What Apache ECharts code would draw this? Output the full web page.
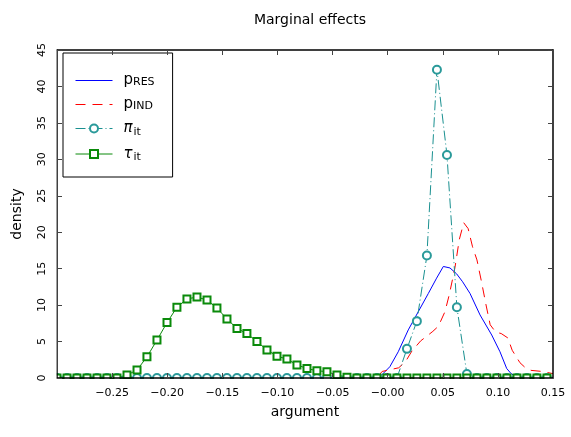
<!DOCTYPE html>
<html><head><meta charset="utf-8">
<script src="https://cdn.jsdelivr.net/npm/echarts@6/dist/echarts.min.js"></script>
<style>html,body{margin:0;padding:0;background:#fff}#c{width:571px;height:437px}</style>
</head><body><div id="c"></div>
<script>
// shared evaluation grid for pi_it and tau_it
const gridX = [-0.3000,-0.2909,-0.2819,-0.2728,-0.2637,-0.2547,-0.2456,-0.2365,-0.2274,-0.2184,
  -0.2093,-0.2002,-0.1912,-0.1821,-0.1730,-0.1639,-0.1549,-0.1458,-0.1367,-0.1277,
  -0.1186,-0.1095,-0.1004,-0.0914,-0.0823,-0.0732,-0.0642,-0.0551,-0.0460,-0.0369,
  -0.0279,-0.0188,-0.0097,-0.0007,0.0084,0.0175,0.0265,0.0356,0.0447,0.0538,
  0.0628,0.0719,0.0810,0.0900,0.0991,0.1082,0.1173,0.1263,0.1354,0.1445];
const piY = [0,0,0,0,0,0,0,0,0,0, 0,0,0,0,0,0,0,0,0,0, 0,0,0,0,0,0,0,0,0,0,
  0,0,0,0,0,4.0,7.8,16.8,42.3,30.6, 9.7,0.55,0,0,0,0,0,0,0,0];
const tauY = [0,0,0,0,0,0,0,0.4,1.1,2.9, 5.2,7.6,9.7,10.85,11.1,10.7,9.6,8.1,6.8,6.1,
  5.0,3.85,3.0,2.6,1.8,1.3,1.0,0.87,0.4,0.1, 0,0,0,0,0,0,0,0,0,0, 0,0,0,0,0,0,0,0,0,0];
// p_RES
const resX = [-0.30,-0.012,-0.0055,0.002,0.0096,0.0187,0.0278,0.0369,0.0444,0.0505,0.0565,0.0625,0.068,0.0747,0.0838,0.0944,0.1019,0.108,0.112,0.117,0.150];
const resY = [0,0,0.4,1.55,3.6,6.6,9.1,11.6,13.7,15.3,15.1,14.3,13.2,11.6,8.65,5.9,3.6,1.3,0.6,0.1,0];
// p_IND
const indX = [-0.30,-0.010,-0.005,0.004,0.010,0.016,0.022,0.030,0.036,0.041,0.046,0.052,0.056,0.061,0.065,0.069,0.073,0.077,0.081,0.085,0.089,0.093,0.098,0.103,0.109,0.113,0.120,0.125,0.130,0.140,0.150];
const indY = [0,0,0.9,1.2,1.4,2.2,3.7,5.1,5.8,6.4,7.1,9.1,11.5,15.1,19.0,21.3,20.5,18.0,16.2,13.3,10.2,7.3,6.3,6.1,5.5,3.8,2.1,1.4,1.05,0.9,0.6];

const xMin = -0.30, xMax = 0.15, xStep = 0.05;
const yMin = 0, yMax = 45, yStep = 5;

const font = 'DejaVu Sans';
const pairs = (xs, ys) => xs.map((x, i) => [x, ys[i]]);
const fmtX = v => {
  if (Math.abs(v) < 1e-9) return '\u22120.00';
  const s = Math.abs(v).toFixed(2);
  return v < 0 ? '\u2212' + s : s;
};

const chart = echarts.init(document.getElementById('c'), null, {renderer: 'canvas'});
const axisLine = {show: true, onZero: false, lineStyle: {color: '#000', width: 1.5}};
const tick = {show: true, inside: true, length: 5, lineStyle: {color: '#444', width: 1}};

chart.setOption({
  animation: false,
  backgroundColor: '#fff',
  title: {text: 'Marginal effects', left: 305, textAlign: 'center', top: 8,
    textStyle: {fontFamily: font, fontSize: 14, fontWeight: 'normal', color: '#000'}},
  grid: {left: 57, right: 18, top: 50, bottom: 59},
  legend: {
    orient: 'vertical', left: 63, top: 53,
    padding: [20, 18, 14, 12], itemGap: 9, itemWidth: 37, itemHeight: 10,
    backgroundColor: '#fff', borderColor: '#000', borderWidth: 1,
    lineStyle: {width: 1},
    data: [
      {name: 'pRES', itemStyle: {opacity: 0}},
      {name: 'pIND', itemStyle: {opacity: 0}},
      {name: 'pi'},
      {name: 'tau'}
    ],
    formatter: n => ({pRES: '{m|p}{s|RES}', pIND: '{m|p}{s|IND}', pi: '{g|\u03c0}{t|it}', tau: '{g|\u03c4}{t|it}'})[n],
    textStyle: {fontFamily: font, color: '#000', padding: [0, 0, 0, 6],
      rich: {
        m: {fontSize: 15, fontFamily: font, color: '#000'},
        s: {fontSize: 11, fontFamily: font, color: '#000', padding: [3, 0, 0, 0]},
        g: {fontSize: 15, fontFamily: font, fontStyle: 'italic', color: '#000'},
        t: {fontSize: 11, fontFamily: font, color: '#000', padding: [7, 0, 0, 1]}
      }}
  },
  xAxis: [{
    type: 'value', min: xMin, max: xMax, interval: xStep, position: 'bottom', z: 5,
    name: 'argument', nameLocation: 'middle', nameGap: 27,
    nameTextStyle: {fontFamily: font, fontSize: 14, color: '#000'},
    axisLine, axisTick: tick, splitLine: {show: false},
    axisLabel: {formatter: fmtX, showMinLabel: false, margin: 10, fontFamily: font, fontSize: 11, color: '#000'}
  }, {
    type: 'value', min: xMin, max: xMax, interval: xStep, position: 'top', z: 5,
    axisLine, axisTick: tick, splitLine: {show: false}, axisLabel: {show: false}
  }],
  yAxis: [{
    type: 'value', min: yMin, max: yMax, interval: yStep, position: 'left', z: 5,
    name: 'density', nameLocation: 'middle', nameGap: 33,
    nameTextStyle: {fontFamily: font, fontSize: 14, color: '#000'},
    axisLine, axisTick: tick, splitLine: {show: false},
    axisLabel: {rotate: 90, margin: 9, fontFamily: font, fontSize: 11, color: '#000'}
  }, {
    type: 'value', min: yMin, max: yMax, interval: yStep, position: 'right', z: 5,
    axisLine, axisTick: tick, splitLine: {show: false}, axisLabel: {show: false}
  }],
  graphic: [
    {type: 'rect', z: 100, silent: true, shape: {x: 45, y: 379, width: 520, height: 7}, style: {fill: '#fff'}},
    {type: 'rect', z: 100, silent: true, shape: {x: 48, y: 40, width: 8.5, height: 346}, style: {fill: '#fff'}}
  ],
  series: [
    {name: 'pRES', type: 'line', data: pairs(resX, resY), showSymbol: false, symbol: 'none',
      lineStyle: {color: '#0000ff', width: 1}, itemStyle: {color: '#0000ff'}},
    {name: 'pIND', type: 'line', data: pairs(indX, indY), showSymbol: false, symbol: 'none',
      lineStyle: {color: '#ff0000', width: 1, type: [10, 7]}, itemStyle: {color: '#ff0000'}},
    {name: 'pi', type: 'line', data: pairs(gridX, piY), symbol: 'emptyCircle', symbolSize: 8,
      lineStyle: {color: '#1a9090', width: 1, type: [10, 3, 1, 3]},
      itemStyle: {color: '#2a9a9a', borderColor: '#2a9a9a', borderWidth: 1}},
    {name: 'tau', type: 'line', data: pairs(gridX, tauY), symbol: 'emptyRect', symbolSize: 7,
      lineStyle: {color: '#0a8a0a', width: 1},
      itemStyle: {color: '#0a8a0a', borderColor: '#0a8a0a', borderWidth: 1}}
  ]
});
</script></body></html>
